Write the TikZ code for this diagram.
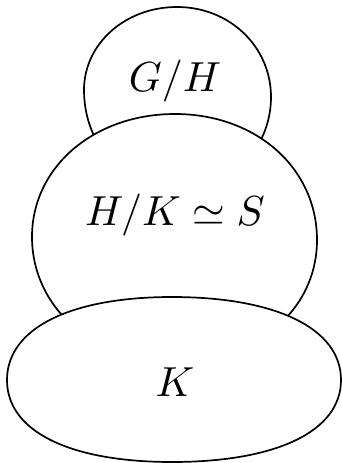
\documentclass[tikz,border=0pt]{standalone}
\tikzset{
  blob/.style={draw=black, fill=white, line width=1.7pt},
  lbl/.style={anchor=base, inner sep=0pt}
}
\newcommand{\bigmath}[1]{\scalebox{4.2}{$#1$}}
\begin{document}
\begin{tikzpicture}[x=1pt,y=-1pt]
\useasboundingbox (0,0) rectangle (342,463);
% top blob G/H
\draw[blob] (177,7) .. controls (230,7) and (271,47) .. (271,97)
  .. controls (271,149) and (230,190) .. (178,190)
  .. controls (125,190) and (84,146) .. (84,90)
  .. controls (84,44) and (125,7) .. (177,7) -- cycle;
% middle blob
\draw[blob] (175,114) .. controls (256,114) and (317,168) .. (317,240)
  .. controls (317,310) and (256,362) .. (174,362)
  .. controls (93,362) and (32,307) .. (32,237)
  .. controls (32,167) and (94,114) .. (175,114) -- cycle;
% bottom blob K
\draw[blob] (172,297) .. controls (275,297) and (341,328) .. (341,380)
  .. controls (341,432) and (275,462) .. (172,462)
  .. controls (71,462) and (7,432) .. (7,380)
  .. controls (7,328) and (71,297) .. (172,297) -- cycle;
\node[lbl] (gh) at (175,91) {\bigmath{G/H}};
\node[lbl] (hk) at (175,225) {\bigmath{H/K\simeq S}};
\node[lbl] (k) at (175,396) {\bigmath{K}};
\end{tikzpicture}
\end{document}
